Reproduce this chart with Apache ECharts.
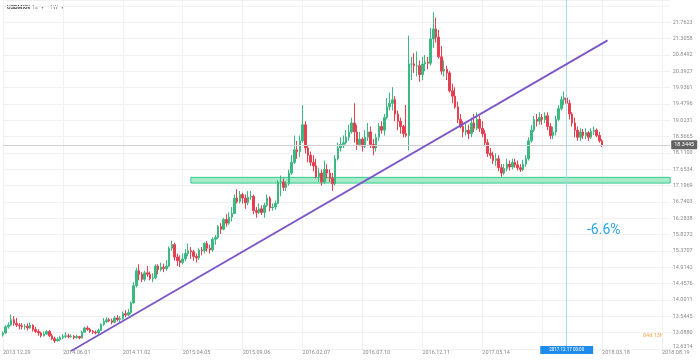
<!DOCTYPE html>
<html><head><meta charset="utf-8">
<script src="https://cdn.jsdelivr.net/npm/echarts@6/dist/echarts.min.js"></script>
<style>html,body{margin:0;padding:0;background:#fff}#c{width:700px;height:361px}</style>
</head><body><div id="c"></div>
<script>
// ---- data ----
const startDate = Date.UTC(2013, 11, 29);
const categoryCount = 246;
const xTickLabels = ['2013.12.29','2014.06.01','2014.11.02','2015.04.05','2015.09.06','2016.02.07','2016.07.10','2016.12.11','2017.05.14','2017.10.15','2018.03.18','2018.08.19'];
const yTickLabels = ['12.6314','13.0880','13.5445','14.0011','14.4576','14.9142','15.3707','15.8272','16.2838','16.7403','17.1969','17.6534','18.1100','18.5665','19.0231','19.4796','19.9361','20.3927','20.8492','21.3058','21.7623'];
const opens = [13.03,13.08,13.25,13.30,13.45,13.35,13.30,13.28,13.25,13.27,13.22,13.30,13.18,13.12,13.08,13.00,13.05,13.12,13.00,12.92,12.86,12.90,12.95,12.98,13.00,12.98,12.99,12.95,12.98,12.94,13.10,13.22,13.18,13.12,13.10,13.08,13.15,13.32,13.40,13.45,13.42,13.38,13.50,13.45,13.48,13.62,13.58,13.65,13.92,14.40,14.82,14.72,14.58,
14.76,14.72,14.60,14.62,14.95,14.85,14.92,14.88,14.95,15.45,15.55,15.20,15.10,15.05,15.15,15.30,15.38,15.35,15.22,15.18,15.40,15.38,15.58,15.45,15.40,15.70,15.75,16.05,15.98,16.25,16.15,16.32,16.42,16.85,16.75,16.95,16.85,16.72,16.88,16.90,16.50,16.45,16.55,16.45,16.65,16.85,16.58,16.60,16.70,17.30,17.30,17.15,
17.25,17.55,17.85,18.20,18.15,18.45,18.90,18.25,18.05,17.85,17.75,17.45,17.55,17.30,17.65,17.55,17.40,17.25,17.95,18.25,18.35,18.40,18.55,18.70,18.95,18.70,18.35,18.50,18.30,18.55,18.70,18.35,18.25,18.55,18.85,18.75,19.10,19.40,19.50,19.60,19.20,19.00,18.85,18.65,18.60,20.60,20.60,20.55,20.55,20.30,20.60,20.65,20.62,
21.30,21.58,21.35,20.80,20.40,20.45,20.35,19.85,19.70,19.40,19.05,18.85,18.70,18.75,18.65,18.95,18.80,19.05,18.80,18.65,18.40,18.10,18.05,17.90,17.95,17.70,17.55,17.68,17.80,17.72,17.85,17.78,17.70,17.65,17.80,17.95,18.45,18.75,19.05,19.00,19.10,19.05,19.15,18.85,18.60,18.70,19.05,19.35,19.60,19.65,19.50,19.20,
18.95,18.75,18.55,18.70,18.60,18.68,18.55,18.72,18.75,18.60,18.45];
const closes = [13.08,13.25,13.30,13.45,13.35,13.30,13.28,13.25,13.27,13.22,13.30,13.18,13.12,13.08,13.00,13.05,13.12,13.00,12.92,12.86,12.90,12.95,12.98,13.00,12.98,12.99,12.95,12.98,12.94,13.10,13.22,13.18,13.12,13.10,13.08,13.15,13.32,13.40,13.45,13.42,13.38,13.50,13.45,13.48,13.62,13.58,13.65,13.92,14.40,14.82,14.72,14.58,14.76,
14.72,14.60,14.62,14.95,14.85,14.92,14.88,14.95,15.45,15.55,15.20,15.10,15.05,15.15,15.30,15.38,15.35,15.22,15.18,15.40,15.38,15.58,15.45,15.40,15.70,15.75,16.05,15.98,16.25,16.15,16.32,16.42,16.85,16.75,16.95,16.85,16.72,16.88,16.90,16.50,16.45,16.55,16.45,16.65,16.85,16.58,16.60,16.70,17.30,17.30,17.15,17.25,
17.55,17.85,18.20,18.15,18.45,18.90,18.25,18.05,17.85,17.75,17.45,17.55,17.30,17.65,17.55,17.40,17.25,17.95,18.25,18.35,18.40,18.55,18.70,18.95,18.70,18.35,18.50,18.30,18.55,18.70,18.35,18.25,18.55,18.85,18.75,19.10,19.40,19.50,19.60,19.20,19.00,18.85,18.65,18.60,20.60,20.60,20.55,20.55,20.30,20.60,20.65,20.62,21.30,
21.58,21.35,20.80,20.40,20.45,20.35,19.85,19.70,19.40,19.05,18.85,18.70,18.75,18.65,18.95,18.80,19.05,18.80,18.65,18.40,18.10,18.05,17.90,17.95,17.70,17.55,17.68,17.80,17.72,17.85,17.78,17.70,17.65,17.80,17.95,18.45,18.75,19.05,19.00,19.10,19.05,19.15,18.85,18.60,18.70,19.05,19.35,19.60,19.65,19.50,19.20,18.95,
18.75,18.55,18.70,18.60,18.68,18.55,18.72,18.75,18.60,18.45,18.34];
const lows = [12.98,13.05,13.20,13.28,13.28,13.25,13.18,13.18,13.17,13.15,13.20,13.12,13.08,13.00,12.95,12.98,13.03,12.96,12.88,12.80,12.84,12.85,12.90,12.93,12.93,12.94,12.90,12.92,12.90,12.93,13.08,13.14,13.08,13.05,13.04,13.05,13.14,13.28,13.35,13.38,13.32,13.35,13.40,13.38,13.45,13.52,13.55,13.60,13.90,14.35,14.55,14.50,14.52,
14.65,14.55,14.50,14.58,14.72,14.80,14.78,14.82,14.92,15.38,15.10,14.95,14.92,15.00,15.08,15.22,15.15,15.10,15.05,15.12,15.25,15.30,15.35,15.30,15.35,15.55,15.70,15.85,15.95,16.05,16.10,16.20,16.40,16.70,16.70,16.70,16.55,16.65,16.80,16.40,16.30,16.40,16.38,16.30,16.60,16.48,16.50,16.52,16.68,16.90,17.05,17.05,
17.20,17.50,17.80,17.95,18.00,18.40,18.10,17.85,17.75,17.60,17.40,17.30,17.20,17.25,17.40,17.30,17.05,17.20,17.90,18.15,18.25,18.35,18.45,18.65,18.40,18.20,18.30,18.15,18.25,18.45,18.25,18.05,18.15,18.45,18.65,18.60,19.05,19.30,19.30,19.00,18.75,18.65,18.55,18.55,18.18,20.15,20.35,20.25,20.10,20.15,20.40,20.45,20.55,
21.05,21.20,20.75,20.30,20.25,20.15,19.80,19.50,19.35,18.95,18.80,18.55,18.60,18.50,18.55,18.70,18.75,18.70,18.55,18.30,18.00,17.95,17.80,17.75,17.60,17.45,17.50,17.60,17.62,17.65,17.70,17.62,17.58,17.60,17.72,17.90,18.40,18.70,18.85,18.90,18.90,18.95,18.75,18.50,18.50,18.60,19.00,19.30,19.45,19.40,19.05,18.85,
18.55,18.45,18.45,18.50,18.50,18.45,18.50,18.62,18.55,18.40,18.28];
const highs = [13.12,13.30,13.38,13.60,13.55,13.50,13.36,13.35,13.33,13.35,13.37,13.32,13.25,13.18,13.12,13.13,13.16,13.16,13.06,12.98,12.96,13.00,13.05,13.10,13.06,13.04,13.02,13.03,13.00,13.14,13.26,13.28,13.22,13.16,13.15,13.20,13.35,13.50,13.52,13.50,13.48,13.55,13.58,13.55,13.68,13.72,13.75,13.96,14.50,14.90,15.00,14.78,14.82,
14.95,14.80,14.75,15.00,15.00,15.05,15.02,15.12,15.50,15.66,15.60,15.30,15.25,15.30,15.42,15.58,15.48,15.40,15.30,15.45,15.48,15.62,15.65,15.55,15.75,15.82,16.10,16.15,16.30,16.40,16.45,16.60,16.95,17.10,17.05,17.00,16.95,17.05,17.05,16.95,16.60,16.70,16.65,16.72,16.95,16.90,16.70,16.78,17.35,17.48,17.40,17.32,
17.65,18.05,18.60,18.45,18.60,19.45,19.00,18.30,18.15,18.05,17.95,17.70,17.65,17.90,17.80,17.65,17.55,18.05,18.40,18.55,18.60,18.75,18.90,19.10,19.50,18.90,18.70,18.55,18.75,18.95,18.85,18.50,18.65,18.95,19.00,19.20,19.65,19.80,19.95,19.70,19.30,19.10,18.90,19.45,21.39,20.80,20.90,20.95,20.70,20.80,20.85,20.80,21.60,
22.04,21.90,21.55,21.10,20.70,20.55,20.40,20.05,19.95,19.55,19.20,19.00,18.95,18.90,19.10,19.20,19.25,19.15,19.00,18.75,18.50,18.25,18.15,18.10,18.05,17.80,17.80,17.95,17.90,17.95,17.95,17.90,17.80,17.92,18.05,18.55,18.90,19.15,19.20,19.25,19.20,19.25,19.25,18.95,18.85,19.15,19.45,19.70,19.83,19.75,19.60,19.25,
19.10,18.85,18.80,18.78,18.80,18.72,18.80,18.85,18.80,18.70,18.50];
const currentPrice = 18.3445;
const bandTop = 17.43, bandBottom = 17.27;
const bandStartIndex = 69, bandEndIndex = 245;
const trendStart = [25, 12.5755], trendEnd = [222, 21.259];
const crosshairIndex = 207;
const crosshairLabel = '2017.12.17 00:00';
const changeText = '-6.6%';
const countdownText = '04d 13h';
const symbolText = 'USDMXN';
// ---------------

function fmt(t){const d=new Date(t);const p=n=>String(n).padStart(2,'0');return d.getUTCFullYear()+'.'+p(d.getUTCMonth()+1)+'.'+p(d.getUTCDate());}
const categories=[];
for(let i=0;i<categoryCount;i++) categories.push(fmt(startDate+i*7*86400000));
const ohlc = opens.map((o,i)=>[o, closes[i], lows[i], highs[i]]);

const yMin = 12.6314, yStep = 0.456545, yMax = 22.388;
const FONT = 'Roboto, "Liberation Sans", sans-serif';
const chart = echarts.init(document.getElementById('c'), null, {renderer:'canvas'});
chart.setOption({
  animation:false,
  backgroundColor:'#ffffff',
  grid:{left:2, right:29.8, top:0, bottom:12},
  xAxis:{type:'category', data:categories, boundaryGap:false,
    axisLine:{show:false}, axisTick:{show:false},
    axisLabel:{interval:(i,v)=>xTickLabels.includes(v), align:'left', margin:1, fontSize:5.5, color:'#8a8a8a', fontFamily:FONT},
    splitLine:{show:true, interval:(i,v)=>xTickLabels.includes(v), lineStyle:{color:'#f1f1f1', width:1}}
  },
  yAxis:{type:'value', position:'right', min:yMin, max:yMax, interval:yStep, scale:true,
    axisLine:{show:false}, axisTick:{show:false},
    axisLabel:{margin:2.5, fontSize:5.5, color:'#8a8a8a', fontFamily:FONT,
      formatter:v=>{const k=Math.round((v-yMin)/yStep);const s=yTickLabels[k]||'';return k===0?'{lo|'+s+'}':s;},
      rich:{lo:{fontSize:5.5, color:'#8a8a8a', fontFamily:FONT, padding:[0,0,5,0]}}},
    splitLine:{show:true, lineStyle:{color:'#f1f1f1', width:1}}
  },
  series:[
    {type:'candlestick', data:ohlc, barWidth:2,
      itemStyle:{color:'#3cb983', color0:'#e5404f', borderColor:'#3cb983', borderColor0:'#e5404f', borderWidth:1},
      markArea:{silent:true, data:[[{xAxis:categories[bandStartIndex], yAxis:bandTop, itemStyle:{color:'#a6ebca', borderColor:'#35c98d', borderWidth:1}},{xAxis:categories[bandEndIndex], yAxis:bandBottom}]]},
      markLine:{silent:true, symbol:'none', animation:false, data:[
        {yAxis:currentPrice, lineStyle:{color:'#cfcfcf', width:1, type:'solid'},
          label:{show:true, position:'end', distance:1, formatter:currentPrice.toFixed(4), backgroundColor:'#626262', color:'#fff', fontSize:5.5, padding:[1.5,3,1.5,3], borderRadius:1, fontFamily:FONT}},
        {xAxis:categories[crosshairIndex], lineStyle:{color:'#a8d8f0', width:1, type:'solid'},
          label:{show:true, position:'start', distance:-3, formatter:crosshairLabel, backgroundColor:'#1f8ceb', color:'#fff', fontSize:4.5, padding:[1.5,9,1.5,9], fontFamily:FONT}}
      ]}
    },
    {type:'line', data:[trendStart, trendEnd], symbol:'none', clip:false, silent:true,
      lineStyle:{color:'#7d56c8', width:1.8}, z:5}
  ],
  graphic:[
    {type:'text', left:7, top:5, style:{text:symbolText, fill:'#444', font:'bold 5.5px '+FONT}},
    {type:'text', left:32, top:5, style:{text:'1s  ▾', fill:'#888', font:'5.5px '+FONT}},
    {type:'text', left:50, top:5, style:{text:'1W  ▾', fill:'#888', font:'5.5px '+FONT}},
    {type:'text', left:587, top:223, style:{text:changeText, fill:'#2ba6e6', font:'14px '+FONT}},
    {type:'text', left:643, top:333, style:{text:countdownText, fill:'#f5a442', font:'5.5px '+FONT}}
  ]
});
</script></body></html>
